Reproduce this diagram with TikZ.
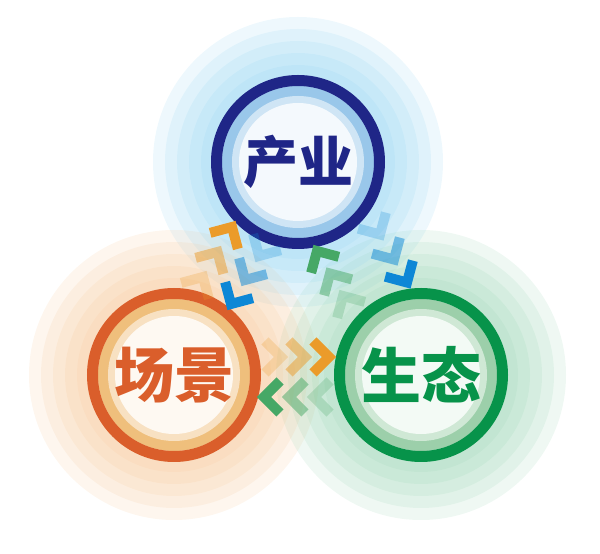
\documentclass[tikz,border=0pt]{standalone}
\usepackage{fontspec}
\newfontfamily\cjk{Noto Sans CJK SC}
\usetikzlibrary{positioning}

\definecolor{cyanhalo}{HTML}{86CFF0}
\definecolor{peachhalo}{HTML}{F5C08A}
\definecolor{minthalo}{HTML}{8CCFAA}
\definecolor{navyring}{HTML}{1F2687}
\definecolor{rustring}{HTML}{DA5E2B}
\definecolor{greenring}{HTML}{07934A}
\definecolor{cyanband}{HTML}{99C7EA}
\definecolor{cyanpale}{HTML}{CFE5F5}
\definecolor{cyanin}{HTML}{F4F9FD}
\definecolor{peachband}{HTML}{EFBF7C}
\definecolor{peachpale}{HTML}{F8E1C2}
\definecolor{peachin}{HTML}{FEF9F2}
\definecolor{mintband}{HTML}{9CCFAA}
\definecolor{mintpale}{HTML}{CFE8D5}
\definecolor{mintin}{HTML}{F3FAF5}
\definecolor{chevorange}{HTML}{EB9B2A}
\definecolor{chevblue}{HTML}{0D87D6}
\definecolor{chevgreen}{HTML}{46A866}

\tikzset{
	halo/.style={fill opacity=0.14},
	chev/.style={line width=10pt, line join=miter, line cap=butt},
	half/.style={draw opacity=0.5},
	faint/.style={draw opacity=0.25},
	title/.style={font=\cjk\bfseries\fontsize{60}{60}\selectfont, inner sep=0pt}
}

\begin{document}
\begin{tikzpicture}[x=1pt, y=1pt]
	\useasboundingbox (0,0) rectangle (600,554);
	\coordinate (top) at (298,392);
	\coordinate (left) at (174,179);
	\coordinate (right) at (421,179);
	% halos
	\foreach \r in {145,133,121,109,97} {
		\fill[halo, cyanhalo] (top) circle (\r);
		\fill[halo, peachhalo] (left) circle (\r);
		\fill[halo, minthalo] (right) circle (\r);
	}
	% rings
	\fill[cyanband] (top) circle (76);
	\fill[cyanpale] (top) circle (66);
	\fill[cyanin] (top) circle (59);
	\draw[navyring, line width=11pt] (top) circle (81.5);
	\fill[peachband] (left) circle (76);
	\fill[peachpale] (left) circle (66);
	\fill[peachin] (left) circle (59);
	\draw[rustring, line width=11pt] (left) circle (81.5);
	\fill[mintband] (right) circle (76);
	\fill[mintpale] (right) circle (66);
	\fill[mintin] (right) circle (59);
	\draw[greenring, line width=11pt] (right) circle (81.5);
	\node[title, text=navyring, font=\cjk\bfseries\fontsize{55}{55}\selectfont] (chanye) at (top) {产业};
	\node[title, text=rustring] (changjing) at (left) {场景};
	\node[title, text=greenring] (shengtai) at (right) {生态};
	% left -- top
	\draw[chev, chevorange, shift={(232,327)}, rotate=60] (-16,16) -- (0,0) -- (-16,-16);
	\draw[chev, chevorange, half, shift={(217.5,302)}, rotate=60] (-16,16) -- (0,0) -- (-16,-16);
	\draw[chev, chevorange, faint, shift={(203,277)}, rotate=60] (-16,16) -- (0,0) -- (-16,-16);
	\draw[chev, chevblue, shift={(231,250)}, rotate=240] (-16,16) -- (0,0) -- (-16,-16);
	\draw[chev, chevblue, half, shift={(245,274)}, rotate=240] (-16,16) -- (0,0) -- (-16,-16);
	\draw[chev, chevblue, faint, shift={(259,298)}, rotate=240] (-16,16) -- (0,0) -- (-16,-16);
	% right -- top
	\draw[chev, chevgreen, shift={(317,303)}, rotate=120] (-16,16) -- (0,0) -- (-16,-16);
	\draw[chev, chevgreen, half, shift={(330,280.5)}, rotate=120] (-16,16) -- (0,0) -- (-16,-16);
	\draw[chev, chevgreen, faint, shift={(343,258)}, rotate=120] (-16,16) -- (0,0) -- (-16,-16);
	\draw[chev, chevblue, shift={(407,271.5)}, rotate=300] (-16,16) -- (0,0) -- (-16,-16);
	\draw[chev, chevblue, half, shift={(394,294.5)}, rotate=300] (-16,16) -- (0,0) -- (-16,-16);
	\draw[chev, chevblue, faint, shift={(380,319.5)}, rotate=300] (-16,16) -- (0,0) -- (-16,-16);
	% left -- right
	\draw[chev, chevorange, shift={(329,197)}] (-16,16) -- (0,0) -- (-16,-16);
	\draw[chev, chevorange, half, shift={(305,197)}] (-16,16) -- (0,0) -- (-16,-16);
	\draw[chev, chevorange, faint, shift={(281,197)}] (-16,16) -- (0,0) -- (-16,-16);
	\draw[chev, chevgreen, shift={(264,157)}, rotate=180] (-16,16) -- (0,0) -- (-16,-16);
	\draw[chev, chevgreen, half, shift={(289,157)}, rotate=180] (-16,16) -- (0,0) -- (-16,-16);
	\draw[chev, chevgreen, faint, shift={(314,157)}, rotate=180] (-16,16) -- (0,0) -- (-16,-16);
\end{tikzpicture}
\end{document}
